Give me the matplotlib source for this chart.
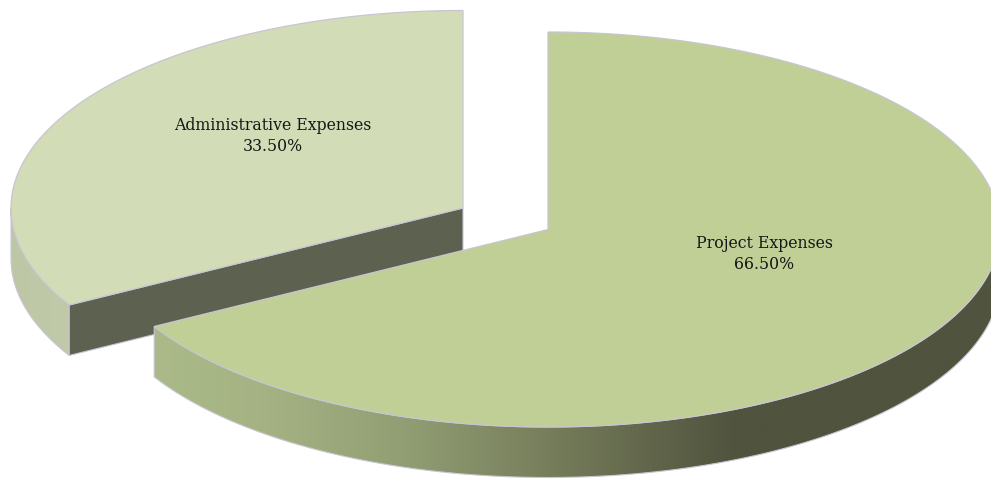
import numpy as np
import matplotlib
matplotlib.use("Agg")
import matplotlib.pyplot as plt
from matplotlib.colors import to_rgb
from matplotlib.patches import PathPatch, Polygon
from matplotlib.path import Path

# Budget split
categories = ["Project Expenses", "Administrative Expenses"]
shares = [66.50, 33.50]

WIDTH, HEIGHT = 991, 479
RX, RY, DEPTH = 452, 197.5, 50.5
FORESHORTEN = 1.37  # degrees of perspective drift in the rim angle
EDGE = "#c9c5d3"

fig = plt.figure(figsize=(WIDTH / 100, HEIGHT / 100), dpi=100, facecolor="white")
ax = fig.add_axes([0, 0, 1, 1])


def rim(cx, cy, a0, a1, n=400):
    """Points along the tilted disc's rim, angles in degrees counter-clockwise."""
    a = np.linspace(a0, a1, n)
    t = np.radians(a + FORESHORTEN * np.sin(np.radians(2 * (a - 90))))
    return np.column_stack([cx + RX * np.cos(t), cy - RY * np.sin(t)])


def draw_wall(cx, cy, a0, a1, stops, zorder):
    """Side wall of a slice, shaded by a horizontal gradient clipped to its shape."""
    top = rim(cx, cy, a0, a1)
    bottom = top[::-1] + [0, DEPTH]
    path = Path(np.vstack([top, bottom, top[:1]]), closed=True)
    x0, x1 = path.vertices[:, 0].min(), path.vertices[:, 0].max()
    y0, y1 = path.vertices[:, 1].min(), path.vertices[:, 1].max()
    xs = np.linspace(x0, x1, 1024)
    stop_x = [s[0] for s in stops]
    stop_rgb = np.array([to_rgb(s[1]) for s in stops])
    row = np.column_stack([np.interp(xs, stop_x, stop_rgb[:, i]) for i in range(3)])
    im = ax.imshow(row[None, :, :], extent=[x0, x1, y1, y0], aspect="auto",
                   zorder=zorder, interpolation="bilinear")
    im.set_clip_path(PathPatch(path, transform=ax.transData))
    ax.add_patch(PathPatch(path, facecolor="none", edgecolor=EDGE, lw=0.8, zorder=zorder + 0.1))


def draw_top(cx, cy, a0, a1, color, zorder):
    """Flat top of a slice, outlined along its rim and both cut edges."""
    xy = np.vstack([[cx, cy], rim(cx, cy, a0, a1), [cx, cy]])
    ax.add_patch(Polygon(xy, closed=True, facecolor=color, edgecolor=EDGE, lw=0.9,
                         joinstyle="miter", zorder=zorder))


# The project share sweeps clockwise from twelve o'clock, the administrative
# share takes the remainder on the left
project_a0 = 90 - shares[0] * 3.6
admin_a0 = 90
admin_a1 = 90 + shares[1] * 3.6

pcx, pcy = 548, 229.5
acx, acy = 463, 208

# Administrative slice sits behind the project slice
draw_wall(acx, acy, 180, admin_a1, [(10, "#bdc7a6"), (70, "#c0caa9")], 1)
corner = rim(acx, acy, admin_a1, admin_a1, 1)[0]
ax.add_patch(Polygon([[acx, acy], corner, corner + [0, DEPTH], [acx, acy + DEPTH]],
                     closed=True, facecolor="#5d614f", edgecolor=EDGE, lw=0.8, zorder=2))
draw_top(acx, acy, admin_a0, admin_a1, "#d2dcb6", 3)

# Project slice in front
draw_wall(pcx, pcy, project_a0 + 360, 360,
          [(155, "#abba88"), (260, "#a5b384"), (400, "#929f74"),
           (560, "#747b59"), (735, "#50533e"), (1000, "#50533e")], 4)
draw_top(pcx, pcy, project_a0, 90, "#bfcf95", 5)

# Slice labels
font = dict(family=["DejaVu Serif", "Liberation Serif"], stretch="condensed",
            fontsize=12.6, color="#161616",
            ha="center", va="center", linespacing=1.35, zorder=8)
ax.text(764, 254, f"{categories[0]}\n{shares[0]:.2f}%", **font)
ax.text(272.5, 136, f"{categories[1]}\n{shares[1]:.2f}%", **font)

ax.set_xlim(0, WIDTH)
ax.set_ylim(HEIGHT, 0)
ax.axis("off")

fig.savefig("out.png", dpi=100, facecolor="white")
